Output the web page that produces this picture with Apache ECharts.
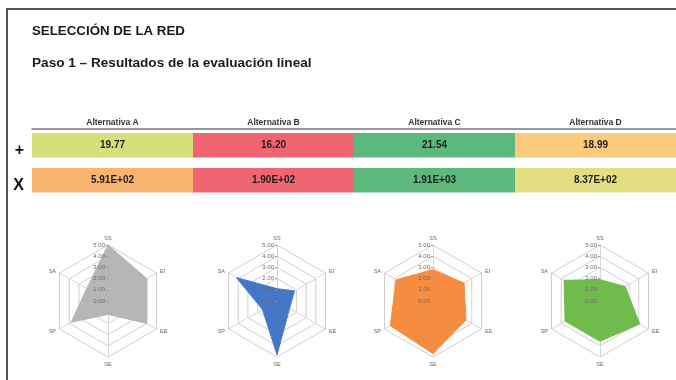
<!DOCTYPE html>
<html>
<head>
<meta charset="utf-8">
<script src="https://cdn.jsdelivr.net/npm/echarts@6/dist/echarts.min.js"></script>
<style>
  html, body { margin: 0; padding: 0; background: #fff; }
  #chart { width: 676px; height: 380px; }
</style>
</head>
<body>
<div id="chart"></div>
<script>
// table data
const alternatives = ['Alternativa A', 'Alternativa B', 'Alternativa C', 'Alternativa D'];
const rowSymbols = ['+', 'X'];
const sumScores = [19.77, 16.20, 21.54, 18.99];
const productScores = [591, 190, 1910, 837];

// radar data (order: top, top-left, bottom-left, bottom, bottom-right, top-right)
const radarAxes = ['SS', 'SA', 'SP', 'SE', 'EE', 'EI'];
const radarTicks = [0, 1, 2, 3, 4, 5];
const radarA = [5.0, 2.2, 3.8, 1.2, 4.0, 4.0];
const radarB = [1.1, 4.2, 1.5, 4.8, 1.3, 1.8];
const radarC = [2.8, 3.8, 4.4, 4.7, 3.4, 3.2];
const radarD = [1.9, 3.7, 3.6, 3.6, 4.1, 2.6];

// colours
const cellColors = [
  ['#d5e07c', '#f0656f', '#5cb97e', '#fcca7c'],
  ['#f9b46e', '#ef6672', '#5db87d', '#e3df80'],
];
const radarColors = ['#b6b6b6', '#4577c6', '#f58c40', '#6fbb4c'];
const radarCenters = [[108, 301], [277, 301], [433, 301], [600, 301]];

const font = '"Liberation Sans", Arial, sans-serif';

const fmtSum = v => v.toFixed(2);
const fmtProd = v => v.toExponential(2).toUpperCase().replace(/E([+-])(\d)$/, 'E$10$2');

const tableData = [];
sumScores.forEach((v, i) => tableData.push([i, 0, v]));
productScores.forEach((v, i) => tableData.push([i, 1, v]));

const chart = echarts.init(document.getElementById('chart'));

const indicators = radarAxes.map(name => ({
  name, min: radarTicks[0], max: radarTicks[radarTicks.length - 1],
}));

// grid + names, drawn under the filled shapes
const radarGrids = radarCenters.map(c => ({
  center: c,
  radius: 56,
  startAngle: 90,
  splitNumber: radarTicks.length - 1,
  shape: 'polygon',
  axisName: { color: '#666', fontSize: 5.5, fontFamily: font },
  nameGap: 4,
  splitLine: { lineStyle: { color: '#cfcfcf', width: 1 } },
  splitArea: { show: false },
  axisLine: { lineStyle: { color: '#d6d6d6' } },
  axisLabel: { show: false },
  indicator: indicators,
}));

// same radars again, only the tick labels of the top axis, drawn above the shapes
const radarLabels = radarCenters.map(c => ({
  center: c,
  radius: 56,
  startAngle: 90,
  splitNumber: radarTicks.length - 1,
  shape: 'polygon',
  z: 5,
  silent: true,
  axisName: { show: false },
  splitLine: { show: false },
  splitArea: { show: false },
  axisLine: { show: false },
  axisLabel: { show: false },
  indicator: indicators.map((ind, i) => i === 0 ? Object.assign({}, ind, {
    axisLabel: { show: true, fontSize: 6, color: '#6a6a6a', formatter: v => v.toFixed(2), margin: 3, fontFamily: font },
    axisTick: { show: true, length: 2, lineStyle: { color: '#999' } },
  }) : ind),
}));

const radarSeries = [radarA, radarB, radarC, radarD].map((vals, i) => ({
  type: 'radar',
  radarIndex: i,
  z: 2,
  symbol: 'none',
  silent: true,
  lineStyle: { color: radarColors[i], width: 1 },
  areaStyle: { color: radarColors[i], opacity: 1 },
  data: [{ value: vals }],
}));

chart.setOption({
  animation: false,
  title: [
    {
      text: 'SELECCIÓN DE LA RED',
      left: 27, top: 20,
      textStyle: { fontSize: 13.3, fontWeight: 'bold', color: '#1a1a1a', fontFamily: font },
    },
    {
      text: 'Paso 1 – Resultados de la evaluación lineal',
      left: 27, top: 51,
      textStyle: { fontSize: 13.6, fontWeight: 'bold', color: '#1a1a1a', fontFamily: font },
    },
  ],
  graphic: [{
    type: 'polyline',
    shape: { points: [[7, 380], [7, 9], [676, 9]] },
    style: { stroke: '#555', lineWidth: 2, fill: null },
    silent: true,
  }],
  grid: { left: 32, right: 0, top: 133, height: 70 },
  xAxis: {
    type: 'category',
    data: alternatives,
    position: 'top',
    offset: 4,
    axisLine: { lineStyle: { color: '#777', width: 1.5 } },
    axisTick: { show: false },
    axisLabel: { fontSize: 8.5, fontWeight: 'bold', color: '#333', margin: 2, fontFamily: font },
  },
  yAxis: {
    type: 'category',
    data: rowSymbols,
    inverse: true,
    axisLine: { show: false },
    axisTick: { show: false },
    axisLabel: { fontSize: 16, fontWeight: 'bold', color: '#111', margin: 8, padding: [0, 0, 5, 0], fontFamily: font },
  },
  radar: radarGrids.concat(radarLabels),
  series: [
    {
      type: 'custom',
      silent: true,
      data: tableData,
      renderItem(params, api) {
        const col = api.value(0);
        const row = api.value(1);
        const val = api.value(2);
        const c = api.coord([col, row]);
        const w = api.size([1, 0])[0];
        const h = api.size([0, 1])[1];
        const cellH = h * 0.7;
        const top = c[1] - h / 2;
        return {
          type: 'group',
          children: [
            {
              type: 'rect',
              shape: { x: c[0] - w / 2, y: top, width: w, height: cellH },
              style: { fill: cellColors[row][col] },
            },
            {
              type: 'text',
              style: {
                text: row === 0 ? fmtSum(val) : fmtProd(val),
                x: c[0], y: top + cellH / 2,
                align: 'center', verticalAlign: 'middle',
                font: 'bold 10px ' + font,
                fill: '#1e1e1e',
              },
            },
          ],
        };
      },
    },
  ].concat(radarSeries),
});
</script>
</body>
</html>
